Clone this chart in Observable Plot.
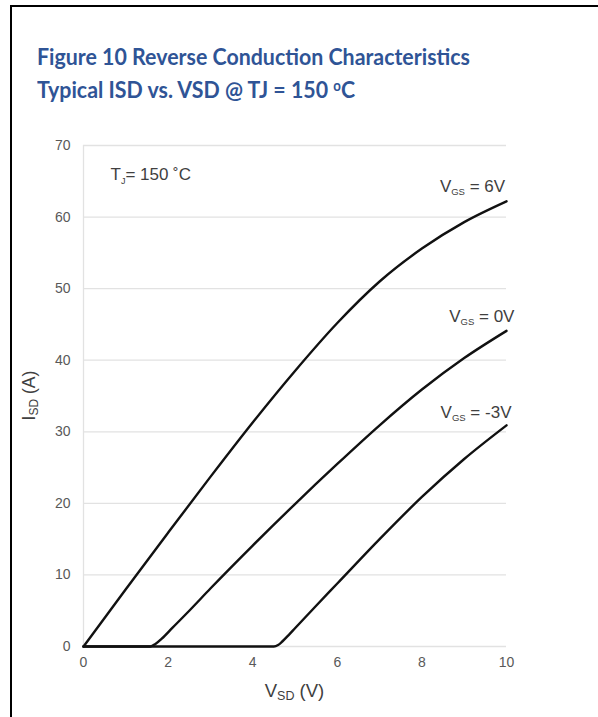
<!DOCTYPE html>
<html><head><meta charset="utf-8">
<script src="https://cdn.jsdelivr.net/npm/d3@7"></script>
<script src="https://cdn.jsdelivr.net/npm/@observablehq/plot@0.6"></script>
<style>
html,body{margin:0;padding:0;background:#fff;}
body{width:598px;height:717px;overflow:hidden;position:relative;}
#frame{position:absolute;left:10px;top:5px;width:700px;height:800px;border:2px solid #000;z-index:2;pointer-events:none;}
#title{position:absolute;left:37px;top:42px;font-family:Lato,"Open Sans",sans-serif;font-weight:bold;color:#2F5496;font-size:23px;line-height:29px;transform-origin:0 0;white-space:nowrap;}
#title span.l{display:inline-block;}
#title .sup{font-size:0.62em;vertical-align:0.5em;}
#chart{position:absolute;left:0;top:120px;}
</style></head>
<body>
<div id="frame"></div>
<div id="title"><span class="l" id="t1">Figure 10 Reverse Conduction Characteristics</span><br><span class="l" id="t2">Typical ISD vs. VSD @ TJ = 150 <span class="sup">o</span>C</span></div>
<div id="chart"></div>
<script>
// Curve data (VSD in V, ISD in A)
const vsd6 = [0, 1, 2, 3, 4, 5, 6, 7, 8, 9, 10];
const isd6 = [0, 8.0, 15.9, 23.7, 31.3, 38.5, 45.2, 51.0, 55.6, 59.3, 62.2];
const vsd0 = [0, 1.58, 1.7, 1.85, 2.1, 2.5, 3, 4, 5, 6, 7, 8, 9, 10];
const isd0 = [0, 0, 0.35, 1.1, 2.6, 5.0, 8.1, 14.1, 19.9, 25.5, 30.9, 35.9, 40.3, 44.1];
const vsdm3 = [0, 4.5, 4.6, 4.7, 4.85, 5, 5.5, 6, 7, 8, 9, 10];
const isdm3 = [0, 0, 0.2, 0.7, 1.6, 2.55, 5.7, 8.8, 15.0, 20.9, 26.2, 30.9];
const seriesNames = ["VGS = 6V", "VGS = 0V", "VGS = -3V"];
const xTicks = [0, 2, 4, 6, 8, 10];
const yTicks = [0, 10, 20, 30, 40, 50, 60, 70];
// Label anchor points in data units [x, y]
const seriesLabelPos = [[9.98, 63.4], [10.2, 45.3], [10.13, 31.9]];
const seriesLabelSub = [["V", "GS", " = 6V"], ["V", "GS", " = 0V"], ["V", "GS", " = -3V"]];
const tjLabelPos = [0.65, 65.1];
const tjLabel = ["T", "J", "= 150 \u02DAC"];
const xTitle = ["V", "SD", " (V)"];
const yTitle = ["I", "SD", " (A)"];

const rows = [];
[[vsd6, isd6], [vsd0, isd0], [vsdm3, isdm3]].forEach(([xs, ys], i) => {
  xs.forEach((v, j) => rows.push({series: seriesNames[i], vsd: v, isd: ys[j]}));
});

const plot = Plot.plot({
  width: 598,
  height: 597,
  marginLeft: 83,
  marginRight: 92,
  marginTop: 25,
  marginBottom: 71,
  style: {fontFamily: "'Liberation Sans', Arial, sans-serif", fontSize: "14px", color: "#595959", background: "transparent"},
  x: {domain: [0, 10]},
  y: {domain: [0, 70]},
  marks: [
    Plot.gridY(yTicks, {stroke: "#e2e2e2", strokeOpacity: 1, strokeWidth: 1.3}),
    Plot.ruleX([0], {stroke: "#e2e2e2", strokeWidth: 1.3}),
    Plot.axisY(yTicks, {tickSize: 0, tickPadding: 13, fill: "#595959", label: null}),
    Plot.axisX(xTicks, {tickSize: 0, tickPadding: 11, fill: "#595959", label: null}),
    Plot.line(rows, {x: "vsd", y: "isd", z: "series", stroke: "#111", strokeWidth: 2.4, curve: "monotone-x"})
  ]
});
document.getElementById("chart").appendChild(plot);

const sx = plot.scale("x"), sy = plot.scale("y");
const svg = d3.select(plot);
function subText(g, parts, size, subSize, shift) {
  g.append("tspan").attr("font-size", size).text(parts[0]);
  g.append("tspan").attr("font-size", subSize).attr("dy", shift).text(parts[1]);
  g.append("tspan").attr("font-size", size).attr("dy", -shift).text(parts[2]);
  return g;
}
seriesLabelPos.forEach((p, i) => {
  const t = svg.append("text").attr("x", sx.apply(p[0])).attr("y", sy.apply(p[1]))
    .attr("text-anchor", "end").attr("fill", "#404040")
    .attr("font-family", "'Liberation Sans', Arial, sans-serif");
  subText(t, seriesLabelSub[i], 17, 9.5, 3);
});
{
  const t = svg.append("text").attr("x", sx.apply(tjLabelPos[0])).attr("y", sy.apply(tjLabelPos[1]))
    .attr("text-anchor", "start")
    .attr("fill", "#404040").attr("font-family", "'Liberation Sans', Arial, sans-serif");
  subText(t, tjLabel, 17, 9, 4);
}
{
  const t = svg.append("text")
    .attr("x", (sx.apply(0) + sx.apply(10)) / 2).attr("y", sy.apply(0) + 51)
    .attr("text-anchor", "middle").attr("fill", "#404040")
    .attr("font-family", "'Liberation Sans', Arial, sans-serif");
  subText(t, xTitle, 18.5, 12.5, 3);
}
{
  const cy = (sy.apply(0) + sy.apply(70)) / 2;
  const t = svg.append("text")
    .attr("transform", `translate(35,${cy}) rotate(-90)`)
    .attr("text-anchor", "middle").attr("fill", "#404040")
    .attr("font-family", "'Liberation Sans', Arial, sans-serif");
  subText(t, yTitle, 17.5, 12, 3);
}

// fit title to the reference width
const w1 = document.getElementById("t1").getBoundingClientRect().width;
document.getElementById("title").style.transform = `scaleX(${433 / w1})`;
</script>
</body></html>
